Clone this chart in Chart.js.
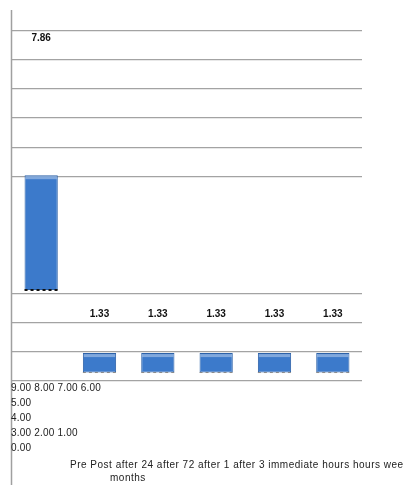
<!doctype html>
<html>
<head>
	<meta charset="utf-8">
	<title>Chart</title>
	<style>
		body { margin: 0; background: #fff; }
		#holder { width: 403px; height: 485px; }
	</style>
</head>
<body>
	<div id="holder">
		<canvas id="chart-area" width="403" height="485"></canvas>
	</div>
	<script src="https://cdn.jsdelivr.net/npm/chart.js@4/dist/chart.umd.min.js"></script>
	<script>
	// data
	var categories = [["Pre"], ["Post", "immediate"], ["after 24", "hours"], ["after 72", "hours"], ["after 1", "week"], ["after 3", "months"]];
	var values = [7.86, 1.33, 1.33, 1.33, 1.33, 1.33];
	var yTicks = [9, 8, 7, 6, 5, 4, 3, 2, 1, 0];

	// the picture is a broken render: bars float at different heights
	var barBase = [6.23, 0.58, 0.58, 0.58, 0.58, 0.58];
	var labelLevel = [23.5, 4.6, 4.6, 4.6, 4.6, 4.6];
	var hiddenGrid = [8, 10, 12];
	var tickRows = [4, 1, 1, 3, 1];

	var extras = {
		id: 'extras',
		afterDatasetsDraw: function(chart) {
			var ctx = chart.ctx;
			var meta = chart.getDatasetMeta(0);
			var y = chart.scales.y;
			ctx.save();
			meta.data.forEach(function(bar, i) {
				var l = bar.x - bar.width / 2, r = bar.x + bar.width / 2;
				// light top edge
				ctx.fillStyle = 'rgba(255,255,255,0.35)';
				ctx.fillRect(l + 1, bar.y + 1, bar.width - 2, 3);
				// dotted bottom
				ctx.strokeStyle = i === 0 ? '#111' : '#8a8a8a';
				ctx.lineWidth = i === 0 ? 2 : 1;
				ctx.setLineDash([3, 3]);
				ctx.beginPath();
				ctx.moveTo(l, bar.base);
				ctx.lineTo(r, bar.base);
				ctx.stroke();
			});
			ctx.setLineDash([]);
			// value labels
			ctx.fillStyle = '#111';
			ctx.font = 'bold 10px "Liberation Sans", Arial, sans-serif';
			ctx.textAlign = 'center';
			ctx.textBaseline = 'middle';
			meta.data.forEach(function(bar, i) {
				ctx.fillText(values[i].toFixed(2), bar.x, y.getPixelForValue(labelLevel[i]));
			});
			// left axis line running to the bottom
			ctx.strokeStyle = '#a0a0a0';
			ctx.lineWidth = 1.5;
			ctx.beginPath();
			ctx.moveTo(chart.chartArea.left - 0.5, chart.chartArea.top);
			ctx.lineTo(chart.chartArea.left - 0.5, chart.height);
			ctx.stroke();
			// tick labels spilled under the plot
			ctx.fillStyle = '#222';
			ctx.font = '10px "Liberation Sans", Arial, sans-serif';
			ctx.textAlign = 'left';
			ctx.letterSpacing = '0.2px';
			var k = 0;
			tickRows.forEach(function(n, r) {
				var row = yTicks.slice(k, k + n).map(function(v) { return v.toFixed(2); }).join(' ');
				k += n;
				ctx.fillText(row, 11, 388 + r * 15);
			});
			// category labels spilled as two lines
			ctx.letterSpacing = '0.5px';
			var firsts = categories.map(function(c) { return c[0]; });
			var seconds = categories.filter(function(c) { return c.length > 1; }).map(function(c) { return c[1]; });
			var last = seconds.pop();
			ctx.fillText(firsts.join(' ') + ' ' + seconds.join(' '), 70, 465);
			ctx.fillText(last, 110, 478);
			ctx.restore();
		}
	};

	var config = {
		type: 'bar',
		data: {
			labels: categories,
			datasets: [{
				data: values.map(function(v, i) { return [barBase[i], barBase[i] + v]; }),
				backgroundColor: '#3c7acb',
				borderColor: '#2d62a8',
				borderWidth: 1,
				borderSkipped: false,
				barPercentage: 0.57,
				categoryPercentage: 1
			}]
		},
		options: {
			responsive: false,
			animation: false,
			layout: { padding: { left: 12, right: 41, top: 10, bottom: 104 } },
			plugins: { legend: { display: false }, tooltip: { enabled: false } },
			scales: {
				x: {
					ticks: { display: false },
					grid: { display: false, drawTicks: false },
					border: { display: false }
				},
				y: {
					min: 0,
					max: 25.4,
					ticks: { display: false, stepSize: 2 },
					grid: {
						drawTicks: false,
						lineWidth: 1.3,
						color: function(c) {
							var v = c.tick ? c.tick.value : -1;
							if (v % 2 !== 0 || hiddenGrid.indexOf(v) >= 0) return 'rgba(0,0,0,0)';
							return '#a3a3a3';
						}
					},
					border: { display: false }
				}
			}
		},
		plugins: [extras]
	};

	var ctx = document.getElementById('chart-area').getContext('2d');
	window.myBar = new Chart(ctx, config);
	</script>
</body>
</html>
